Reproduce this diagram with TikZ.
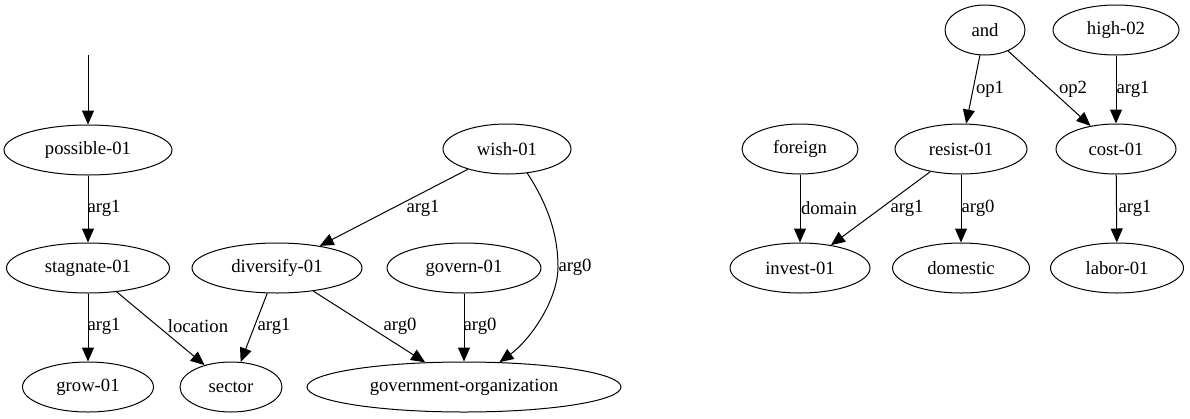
\documentclass[tikz,border=0pt]{standalone}
\usepackage{fontspec}
\setmainfont{Liberation Serif}
\usetikzlibrary{shapes.geometric,arrows.meta}
\begin{document}
\begin{tikzpicture}[x=1pt,y=-1pt,
  gnode/.style={ellipse,draw,line width=1pt,minimum height=50pt,inner sep=0pt,font=\fontsize{18.67}{22}\selectfont},
  lbl/.style={inner sep=0pt,font=\fontsize{18.67}{22}\selectfont},
  edge/.style={draw,line width=1pt,-{Triangle[length=14pt,width=12pt]}}]
\useasboundingbox (0,0) rectangle (1190,418);
% nodes
\node[gnode,minimum width=168pt] (possible) at (88,150) {possible-01};
\node[gnode,minimum width=163pt] (stagnate) at (88,268) {stagnate-01};
\node[gnode,minimum width=131pt] (grow) at (88,387) {grow-01};
\node[gnode,minimum width=102pt] (sector) at (231,387) {sector};
\node[gnode,minimum width=170pt] (diversify) at (277,268) {diversify-01};
\node[gnode,minimum width=154pt] (govern) at (464,268) {govern-01};
\node[gnode,minimum width=314pt] (govorg) at (464,387) {government-organization};
\node[gnode,minimum width=128pt] (wish) at (507,149) {wish-01};
\node[gnode,minimum width=116pt] (foreign) at (800,149) {foreign};
\node[gnode,minimum width=140pt] (invest) at (800,268) {invest-01};
\node[gnode,minimum width=132pt] (resist) at (961,149) {resist-01};
\node[gnode,minimum width=137pt] (domestic) at (961,268) {domestic};
\node[gnode,minimum width=80pt] (and) at (985,30) {and};
\node[gnode,minimum width=126pt] (high) at (1116,30) {high-02};
\node[gnode,minimum width=120pt] (cost) at (1116,149) {cost-01};
\node[gnode,minimum width=133pt] (labor) at (1117,268) {labor-01};
\coordinate (root) at (88,55);
% edges
\draw[edge] (root) -- (possible);
\draw[edge] (possible) -- (stagnate);
\draw[edge] (stagnate) -- (grow);
\draw[edge] (stagnate) -- (sector);
\draw[edge] (diversify) -- (sector);
\draw[edge] (diversify) -- (govorg);
\draw[edge] (govern) -- (govorg);
\draw[edge] (wish) -- (diversify);
\draw[edge] (wish.-50) .. controls (548,205) and (558,235) .. (558,267) .. controls (558,300) and (530,340) .. (govorg.35);
\draw[edge] (foreign) -- (invest);
\draw[edge] (resist) -- (invest);
\draw[edge] (resist) -- (domestic);
\draw[edge] (and) -- (resist);
\draw[edge] (and) -- (cost);
\draw[edge] (high) -- (cost);
\draw[edge] (cost) -- (labor);
% labels
\node[lbl] (l1) at (104,208) {arg1};
\node[lbl] (l2) at (104,326) {arg1};
\node[lbl] (l3) at (198,326) {location};
\node[lbl] (l4) at (274,326) {arg1};
\node[lbl] (l5) at (400,326) {arg0};
\node[lbl] (l6) at (480,326) {arg0};
\node[lbl] (l7) at (423,208) {arg1};
\node[lbl] (l8) at (575,267) {arg0};
\node[lbl] (l9) at (829,208) {domain};
\node[lbl] (l10) at (907,208) {arg1};
\node[lbl] (l11) at (978,208) {arg0};
\node[lbl] (l12) at (990,89) {op1};
\node[lbl] (l13) at (1073,89) {op2};
\node[lbl] (l14) at (1133,89) {arg1};
\node[lbl] (l15) at (1135,208) {arg1};
\end{tikzpicture}
\end{document}
